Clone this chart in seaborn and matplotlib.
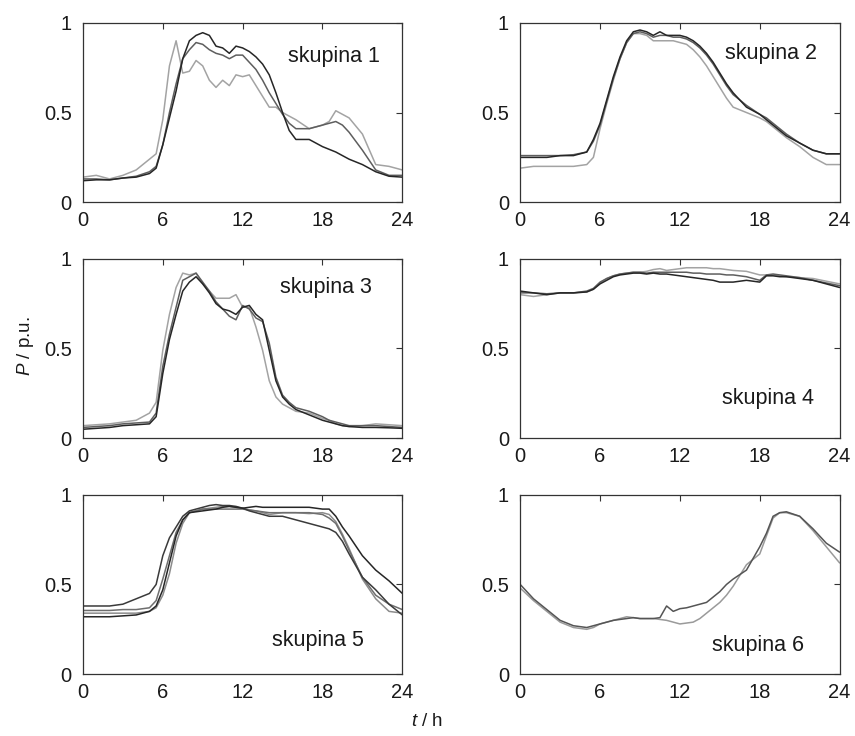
import matplotlib
matplotlib.use("Agg")
import matplotlib.pyplot as plt
import numpy as np
import pandas as pd
import seaborn as sns

# time grid (hours) shared by all load profiles
hours = [0, 1, 2, 3, 4, 5, 5.5, 6, 6.5, 7, 7.5, 8, 8.5, 9, 9.5, 10, 10.5, 11, 11.5,
         12, 12.5, 13, 13.5, 14, 14.5, 15, 15.5, 16, 17, 18, 18.5, 19, 19.5, 20,
         21, 22, 23, 24]

# skupina 1
g1_dark = [0.12, 0.125, 0.125, 0.135, 0.14, 0.16, 0.19, 0.32, 0.47, 0.62, 0.80, 0.90, 0.93,
           0.945, 0.93, 0.87, 0.86, 0.83, 0.87, 0.86, 0.84, 0.81, 0.77, 0.71, 0.61, 0.50,
           0.40, 0.35, 0.35, 0.31, 0.295, 0.28, 0.26, 0.24, 0.21, 0.17, 0.145, 0.14]
g1_mid = [0.13, 0.13, 0.125, 0.135, 0.145, 0.17, 0.20, 0.32, 0.50, 0.66, 0.80, 0.85, 0.89,
          0.88, 0.85, 0.83, 0.82, 0.80, 0.82, 0.82, 0.78, 0.74, 0.68, 0.61, 0.55, 0.49,
          0.44, 0.41, 0.41, 0.43, 0.44, 0.45, 0.43, 0.39, 0.29, 0.18, 0.15, 0.15]
g1_light = [0.14, 0.15, 0.13, 0.15, 0.18, 0.24, 0.27, 0.46, 0.76, 0.90, 0.72, 0.73, 0.79,
            0.76, 0.68, 0.64, 0.68, 0.65, 0.71, 0.70, 0.71, 0.65, 0.59, 0.53, 0.53, 0.50,
            0.48, 0.46, 0.41, 0.43, 0.45, 0.51, 0.49, 0.47, 0.38, 0.21, 0.20, 0.18]

# skupina 2
g2_dark = [0.25, 0.25, 0.25, 0.26, 0.26, 0.28, 0.35, 0.44, 0.57, 0.70, 0.81, 0.90, 0.95,
           0.96, 0.95, 0.93, 0.95, 0.93, 0.93, 0.93, 0.92, 0.90, 0.87, 0.83, 0.78, 0.72,
           0.66, 0.61, 0.53, 0.49, 0.46, 0.43, 0.40, 0.37, 0.33, 0.29, 0.27, 0.27]
g2_mid = [0.26, 0.26, 0.26, 0.26, 0.265, 0.28, 0.34, 0.43, 0.56, 0.69, 0.80, 0.89, 0.94,
          0.95, 0.94, 0.92, 0.93, 0.93, 0.92, 0.92, 0.91, 0.89, 0.86, 0.82, 0.77, 0.71,
          0.65, 0.60, 0.54, 0.49, 0.47, 0.44, 0.41, 0.38, 0.33, 0.29, 0.27, 0.27]
g2_light = [0.19, 0.20, 0.20, 0.20, 0.20, 0.21, 0.25, 0.41, 0.55, 0.68, 0.80, 0.89, 0.94,
            0.94, 0.93, 0.90, 0.90, 0.90, 0.90, 0.89, 0.88, 0.85, 0.81, 0.76, 0.70, 0.64,
            0.58, 0.53, 0.50, 0.47, 0.45, 0.42, 0.39, 0.36, 0.31, 0.25, 0.21, 0.21]

# skupina 3
g3_dark = [0.05, 0.055, 0.06, 0.07, 0.075, 0.08, 0.12, 0.36, 0.55, 0.69, 0.82, 0.87, 0.90,
           0.86, 0.81, 0.75, 0.72, 0.71, 0.69, 0.73, 0.74, 0.69, 0.66, 0.49, 0.32, 0.23,
           0.19, 0.16, 0.13, 0.10, 0.09, 0.08, 0.07, 0.065, 0.06, 0.06, 0.058, 0.055]
g3_mid = [0.06, 0.065, 0.07, 0.08, 0.085, 0.09, 0.14, 0.40, 0.58, 0.73, 0.88, 0.90, 0.92,
          0.87, 0.82, 0.76, 0.72, 0.68, 0.66, 0.74, 0.72, 0.67, 0.65, 0.53, 0.34, 0.24,
          0.20, 0.17, 0.15, 0.12, 0.10, 0.09, 0.08, 0.07, 0.07, 0.07, 0.065, 0.06]
g3_light = [0.07, 0.075, 0.08, 0.09, 0.10, 0.14, 0.20, 0.49, 0.69, 0.84, 0.92, 0.91, 0.92,
            0.86, 0.82, 0.78, 0.78, 0.78, 0.80, 0.73, 0.73, 0.62, 0.49, 0.32, 0.23, 0.19,
            0.17, 0.15, 0.14, 0.11, 0.10, 0.08, 0.07, 0.065, 0.07, 0.08, 0.075, 0.07]

# skupina 4
g4_dark = [0.82, 0.81, 0.80, 0.81, 0.81, 0.815, 0.83, 0.86, 0.88, 0.90, 0.91, 0.915, 0.92,
           0.92, 0.915, 0.92, 0.915, 0.915, 0.91, 0.905, 0.90, 0.895, 0.89, 0.885, 0.88,
           0.87, 0.87, 0.87, 0.88, 0.87, 0.905, 0.905, 0.90, 0.90, 0.89, 0.88, 0.86, 0.84]
g4_mid = [0.81, 0.81, 0.805, 0.81, 0.81, 0.82, 0.835, 0.87, 0.89, 0.905, 0.915, 0.92, 0.925,
          0.925, 0.92, 0.925, 0.925, 0.925, 0.925, 0.925, 0.925, 0.92, 0.92, 0.915, 0.915,
          0.915, 0.91, 0.91, 0.90, 0.88, 0.91, 0.915, 0.91, 0.905, 0.895, 0.88, 0.865, 0.85]
g4_light = [0.80, 0.79, 0.80, 0.81, 0.81, 0.815, 0.83, 0.865, 0.89, 0.905, 0.915, 0.92, 0.925,
            0.925, 0.93, 0.94, 0.945, 0.935, 0.94, 0.945, 0.95, 0.95, 0.95, 0.95, 0.945,
            0.945, 0.94, 0.935, 0.93, 0.91, 0.91, 0.91, 0.905, 0.90, 0.895, 0.89, 0.875, 0.86]

# skupina 5
g5_a = [0.38, 0.38, 0.38, 0.39, 0.42, 0.45, 0.50, 0.66, 0.76, 0.82, 0.88, 0.91, 0.92, 0.93,
        0.94, 0.945, 0.94, 0.94, 0.935, 0.925, 0.91, 0.90, 0.89, 0.88, 0.88, 0.88, 0.87,
        0.86, 0.84, 0.82, 0.81, 0.79, 0.74, 0.67, 0.54, 0.47, 0.39, 0.33]
g5_b = [0.32, 0.32, 0.32, 0.325, 0.33, 0.35, 0.38, 0.47, 0.62, 0.77, 0.86, 0.90, 0.905,
        0.91, 0.915, 0.92, 0.93, 0.935, 0.93, 0.925, 0.93, 0.935, 0.93, 0.93, 0.93, 0.93,
        0.93, 0.93, 0.93, 0.92, 0.92, 0.88, 0.82, 0.77, 0.66, 0.58, 0.52, 0.45]
g5_c = [0.355, 0.355, 0.355, 0.36, 0.36, 0.37, 0.41, 0.53, 0.66, 0.79, 0.86, 0.90, 0.91,
        0.92, 0.92, 0.92, 0.92, 0.92, 0.92, 0.92, 0.915, 0.91, 0.905, 0.90, 0.90, 0.90,
        0.90, 0.90, 0.90, 0.89, 0.87, 0.84, 0.77, 0.69, 0.54, 0.44, 0.39, 0.36]
g5_d = [0.34, 0.34, 0.34, 0.34, 0.34, 0.35, 0.37, 0.44, 0.56, 0.73, 0.84, 0.90, 0.91, 0.92,
        0.925, 0.93, 0.935, 0.935, 0.93, 0.925, 0.915, 0.91, 0.90, 0.89, 0.895, 0.90, 0.90,
        0.90, 0.895, 0.90, 0.89, 0.85, 0.78, 0.70, 0.53, 0.42, 0.35, 0.34]

# skupina 6
g6_a = [0.50, 0.42, 0.36, 0.30, 0.27, 0.26, 0.27, 0.28, 0.29, 0.30, 0.305, 0.31, 0.315,
        0.31, 0.31, 0.31, 0.315, 0.38, 0.35, 0.365, 0.37, 0.38, 0.39, 0.40, 0.43, 0.46,
        0.50, 0.53, 0.58, 0.71, 0.785, 0.88, 0.90, 0.905, 0.88, 0.81, 0.73, 0.68]
g6_b = [0.48, 0.41, 0.35, 0.29, 0.26, 0.25, 0.26, 0.28, 0.29, 0.30, 0.31, 0.32, 0.315,
        0.31, 0.31, 0.31, 0.305, 0.30, 0.29, 0.28, 0.285, 0.29, 0.31, 0.34, 0.37, 0.40,
        0.44, 0.49, 0.61, 0.67, 0.77, 0.87, 0.90, 0.90, 0.88, 0.80, 0.71, 0.62]

group_names = ["skupina 1", "skupina 2", "skupina 3", "skupina 4", "skupina 5", "skupina 6"]
x_ticks = [0, 6, 12, 18, 24]
y_ticks = [0, 0.5, 1]
y_tick_labels = ["0", "0.5", "1"]

DARK, MID, LIGHT = "#262626", "#5e5e5e", "#a3a3a3"

panels = [
    ([("c", g1_light, LIGHT), ("b", g1_mid, MID), ("a", g1_dark, DARK)], (15.4, 0.81)),
    ([("c", g2_light, LIGHT), ("b", g2_mid, MID), ("a", g2_dark, DARK)], (15.4, 0.83)),
    ([("c", g3_light, LIGHT), ("b", g3_mid, MID), ("a", g3_dark, DARK)], (14.8, 0.84)),
    ([("c", g4_light, LIGHT), ("b", g4_mid, MID), ("a", g4_dark, DARK)], (15.2, 0.22)),
    ([("d", g5_d, "#8c8c8c"), ("c", g5_c, "#6e6e6e"), ("a", g5_a, "#3a3a3a"),
      ("b", g5_b, DARK)], (14.2, 0.19)),
    ([("b", g6_b, "#9a9a9a"), ("a", g6_a, "#555555")], (14.4, 0.16)),
]

sns.set_style("white")
plt.rcParams["font.family"] = ["Liberation Sans", "DejaVu Sans"]
plt.rcParams["mathtext.fontset"] = "custom"
plt.rcParams["mathtext.it"] = "Liberation Sans:italic"
plt.rcParams["mathtext.rm"] = "Liberation Sans"

fig, axes = plt.subplots(3, 2, figsize=(8.55, 7.36), dpi=100)
fig.subplots_adjust(left=0.097, right=0.982, bottom=0.084, top=0.969,
                    wspace=0.369, hspace=0.315)

for ax, name, (series, (tx, ty)) in zip(axes.flat, group_names, panels):
    frames = []
    for key, vals, _ in series:
        frames.append(pd.DataFrame({"t": hours, "P": vals, "profil": key}))
    df = pd.concat(frames, ignore_index=True)
    palette = {key: col for key, _, col in series}
    sns.lineplot(data=df, x="t", y="P", hue="profil", hue_order=[k for k, _, _ in series],
                 palette=palette, linewidth=1.1, legend=False, ax=ax, sort=True)
    ax.set_xlim(0, 24)
    ax.set_ylim(0, 1)
    ax.set_xticks(x_ticks)
    ax.set_xticklabels([str(v) for v in x_ticks])
    ax.set_yticks(y_ticks)
    ax.set_yticklabels(y_tick_labels)
    ax.set_xlabel("")
    ax.set_ylabel("")
    ax.tick_params(direction="in", length=4, width=0.8, top=True, right=True,
                   labelsize=14.5, colors="#333333", labelcolor="#1a1a1a")
    ax.tick_params(axis="x", pad=6)
    ax.tick_params(axis="y", pad=8)
    for sp in ax.spines.values():
        sp.set_color("#333333")
        sp.set_linewidth(0.9)
    ax.text(tx, ty, name, fontsize=15.5, color="#1a1a1a", va="center", ha="left")

fig.text(0.030, 1 - 346 / 736, r"$P$ / p.u.", rotation=90, fontsize=13.5,
         va="center", ha="center", color="#1a1a1a")
fig.text(427 / 855, 1 - 722 / 736, r"$t$ / h", fontsize=13.5, va="center",
         ha="center", color="#1a1a1a")

fig.savefig("out.png", dpi=100)
